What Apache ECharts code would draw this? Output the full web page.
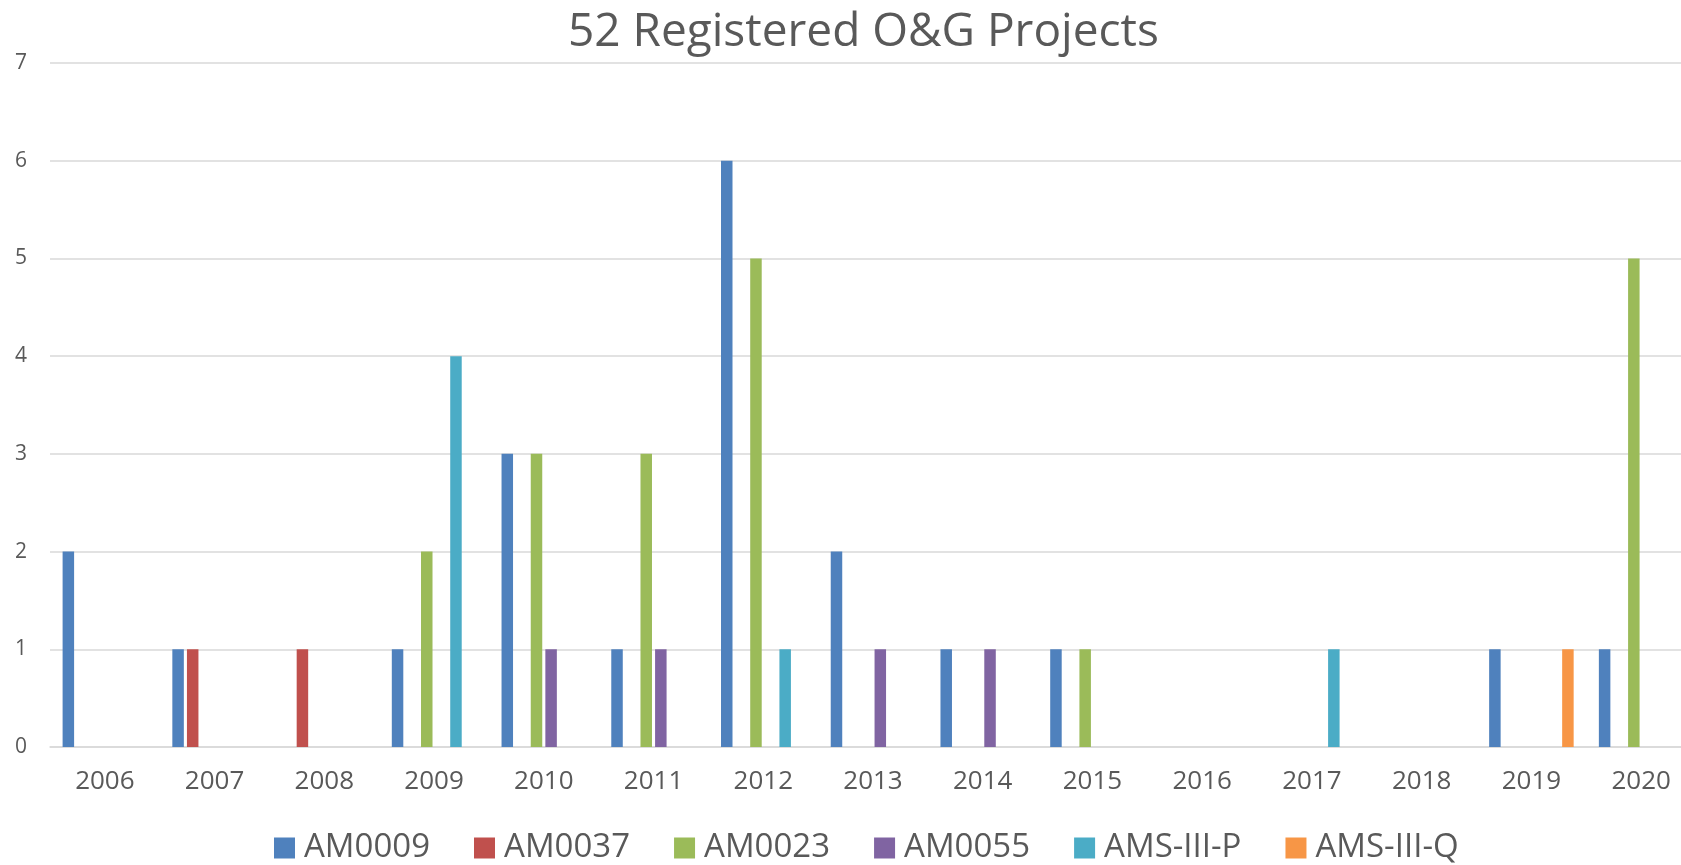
<!DOCTYPE html>
<html>
<head>
<meta charset="utf-8">
<title>52 Registered O&amp;G Projects</title>
<script src="https://cdn.jsdelivr.net/npm/echarts@6/dist/echarts.min.js"></script>
<style>
  html, body { margin: 0; padding: 0; background: #fff; }
  #main { width: 1681px; height: 865px; }
</style>
</head>
<body>
<div id="main"></div>
<script>
var years = ['2006', '2007', '2008', '2009', '2010', '2011', '2012', '2013', '2014', '2015', '2016', '2017', '2018', '2019', '2020'];
var am0009 = [2, 1, 0, 1, 3, 1, 6, 2, 1, 1, 0, 0, 0, 1, 1];
var am0037 = [0, 1, 1, 0, 0, 0, 0, 0, 0, 0, 0, 0, 0, 0, 0];
var am0023 = [0, 0, 0, 2, 3, 3, 5, 0, 0, 1, 0, 0, 0, 0, 5];
var am0055 = [0, 0, 0, 0, 1, 1, 0, 1, 1, 0, 0, 0, 0, 0, 0];
var amsIIIP = [0, 0, 0, 4, 0, 0, 1, 0, 0, 0, 0, 1, 0, 0, 0];
var amsIIIQ = [0, 0, 0, 0, 0, 0, 0, 0, 0, 0, 0, 0, 0, 1, 0];
var seriesNames = ['AM0009', 'AM0037', 'AM0023', 'AM0055', 'AMS-III-P', 'AMS-III-Q'];

var chart = echarts.init(document.getElementById('main'));
var font = '"Open Sans", "Noto Sans", sans-serif';

function barSeries(name, data) {
  return {
    name: name,
    type: 'bar',
    barWidth: 11.5,
    barGap: '27%',
    data: data
  };
}

var option = {
  color: ['#4f81bd', '#c0504d', '#9bbb59', '#8064a2', '#4bacc6', '#f79646'],
  textStyle: { fontFamily: font },
  title: {
    text: '52 Registered O&G Projects',
    left: 563,
    top: 5,
    textStyle: {
      fontFamily: font,
      fontSize: 46,
      fontWeight: 'normal',
      color: '#595959'
    }
  },
  legend: {
    data: seriesNames,
    left: 274,
    top: 830,
    padding: 0,
    itemWidth: 21,
    itemHeight: 21,
    itemGap: 44,
    icon: 'rect',
    textStyle: {
      fontFamily: font,
      fontSize: 33,
      lineHeight: 36,
      color: '#595959',
      padding: [0, 0, 0, 4]
    }
  },
  // the plot runs past the right edge of the picture, as in the source
  grid: {
    left: 50,
    width: 1646,
    top: 63,
    bottom: 118,
    outerBoundsMode: 'none'
  },
  xAxis: {
    type: 'category',
    data: years,
    axisLine: { lineStyle: { color: '#d9d9d9', width: 1.5 } },
    axisTick: { show: false },
    axisLabel: {
      fontFamily: font,
      fontSize: 26,
      color: '#595959',
      margin: 22
    }
  },
  yAxis: {
    type: 'value',
    min: 0,
    max: 7,
    interval: 1,
    axisLine: { show: false },
    axisTick: { show: false },
    axisLabel: {
      fontFamily: font,
      fontSize: 21,
      color: '#595959',
      margin: 23
    },
    splitLine: { lineStyle: { color: '#d9d9d9', width: 1.5 } }
  },
  series: [
    barSeries('AM0009', am0009),
    barSeries('AM0037', am0037),
    barSeries('AM0023', am0023),
    barSeries('AM0055', am0055),
    barSeries('AMS-III-P', amsIIIP),
    barSeries('AMS-III-Q', amsIIIQ)
  ]
};

chart.setOption(option);
</script>
</body>
</html>
